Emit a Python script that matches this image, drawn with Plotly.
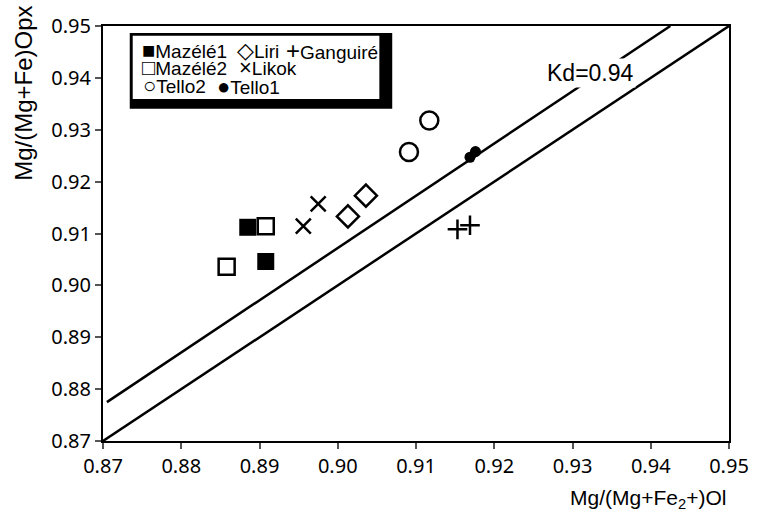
import plotly.graph_objects as go

# ---- data ----
mazele1_x = [0.8885, 0.8908]
mazele1_y = [0.9112, 0.9046]
mazele2_x = [0.8908, 0.8858]
mazele2_y = [0.9114, 0.9036]
liri_x = [0.9013, 0.9036]
liri_y = [0.9133, 0.9173]
likok_x = [0.8956, 0.8975]
likok_y = [0.9114, 0.9157]
ganguire_x = [0.9153, 0.9169]
ganguire_y = [0.9108, 0.9116]
tello2_x = [0.9091, 0.9117]
tello2_y = [0.9257, 0.9318]
tello1_x = [0.9169, 0.9176]
tello1_y = [0.9247, 0.9258]
line11_x = [0.87, 0.95]
line11_y = [0.87, 0.95]
kd_x = [0.8705, 0.9425]
kd_y = [0.8775, 0.95]
ticks = [0.87, 0.88, 0.89, 0.90, 0.91, 0.92, 0.93, 0.94, 0.95]

W, H = 761, 517
L, R, T, B = 103, 26, 20, 76
pw, ph = W - L - R, H - T - B


def px(x):
    return (x - L) / pw


def py(y):
    return (H - B - y) / ph


fig = go.Figure()
fig.add_trace(go.Scatter(x=line11_x, y=line11_y, mode="lines",
                         line=dict(color="black", width=2.5), showlegend=False))
fig.add_trace(go.Scatter(x=kd_x, y=kd_y, mode="lines",
                         line=dict(color="black", width=2.5), showlegend=False))

fig.add_trace(go.Scatter(x=mazele1_x, y=mazele1_y, mode="markers", name="Mazélé1",
                         marker=dict(symbol="square", size=17, color="black")))
fig.add_trace(go.Scatter(x=mazele2_x, y=mazele2_y, mode="markers", name="Mazélé2",
                         marker=dict(symbol="square-open", size=16, color="black",
                                     line=dict(width=2.5, color="black"))))
fig.add_trace(go.Scatter(x=liri_x, y=liri_y, mode="markers", name="Liri",
                         marker=dict(symbol="diamond-open", size=17, color="black",
                                     line=dict(width=2.5, color="black"))))
fig.add_trace(go.Scatter(x=likok_x, y=likok_y, mode="markers", name="Likok",
                         marker=dict(symbol="x-thin-open", size=15, color="black",
                                     line=dict(width=2.5, color="black"))))
fig.add_trace(go.Scatter(x=ganguire_x, y=ganguire_y, mode="markers", name="Ganguiré",
                         marker=dict(symbol="cross-thin-open", size=14, color="black",
                                     line=dict(width=2.5, color="black"))))
fig.add_trace(go.Scatter(x=tello2_x, y=tello2_y, mode="markers", name="Tello2",
                         marker=dict(symbol="circle-open", size=18, color="black",
                                     line=dict(width=2.5, color="black"))))
fig.add_trace(go.Scatter(x=tello1_x, y=tello1_y, mode="markers", name="Tello1",
                         marker=dict(symbol="circle", size=11, color="black")))

axis_common = dict(range=[0.87, 0.95], tickvals=ticks,
                   ticktext=[f"{t:.2f}" for t in ticks],
                   showgrid=False, zeroline=False, showline=True, linecolor="black",
                   linewidth=2, mirror=True, ticks="outside", ticklen=6, tickwidth=2,
                   tickcolor="#555555",
                   tickfont=dict(family="Noto Sans", size=20, color="black"))

shapes = [
    dict(type="rect", xref="paper", yref="paper", x0=px(130), x1=px(395),
         y0=py(104), y1=py(27), fillcolor="black", line=dict(width=0), layer="above"),
    dict(type="rect", xref="paper", yref="paper", x0=px(133), x1=px(382),
         y0=py(94), y1=py(30), fillcolor="white", line=dict(width=0), layer="above"),
]

lf = dict(family="Liberation Sans", size=19, color="black")
legend_items = [
    ("<span style='font-size:22px'>■</span>Mazélé1", 140, 45),
    ("<span style='font-size:22px'>◇</span>Liri", 236, 45),
    ("<span style='font-size:24px'>+</span>Ganguiré", 286, 45),
    ("<span style='font-size:22px'>□</span>Mazélé2", 140, 62),
    ("<span style='font-size:22px'>×</span>Likok", 238, 62),
    ("<span style='font-size:22px'>○</span>Tello2", 141, 80),
    ("<span style='font-size:22px'>●</span>Tello1", 216, 81),
]
annotations = []
for txt, x, y in legend_items:
    annotations.append(dict(text=txt, xref="paper", yref="paper", x=px(x), y=py(y),
                            xanchor="left", yanchor="middle", showarrow=False, font=lf))

annotations.append(dict(text="Kd=0.94", xref="x", yref="y", x=0.9323, y=0.9409,
                        showarrow=False, bgcolor="white",
                        font=dict(family="Liberation Sans", size=23, color="black")))
annotations.append(dict(text="Mg/(Mg+Fe<sub>2</sub>+)Ol", xref="paper", yref="paper",
                        x=px(734), y=py(500), xanchor="right", yanchor="middle",
                        showarrow=False,
                        font=dict(family="Liberation Sans", size=21, color="black")))
annotations.append(dict(text="Mg/(Mg+Fe)Opx", xref="paper", yref="paper",
                        x=px(22), y=py(88), xanchor="center", yanchor="middle",
                        textangle=-90, showarrow=False,
                        font=dict(family="Liberation Sans", size=24, color="black")))

fig.update_layout(
    width=W, height=H,
    margin=dict(l=L, r=R, t=T, b=B),
    paper_bgcolor="white", plot_bgcolor="white",
    showlegend=False,
    xaxis=axis_common, yaxis=axis_common,
    shapes=shapes, annotations=annotations,
)

fig.write_html("out.html")
